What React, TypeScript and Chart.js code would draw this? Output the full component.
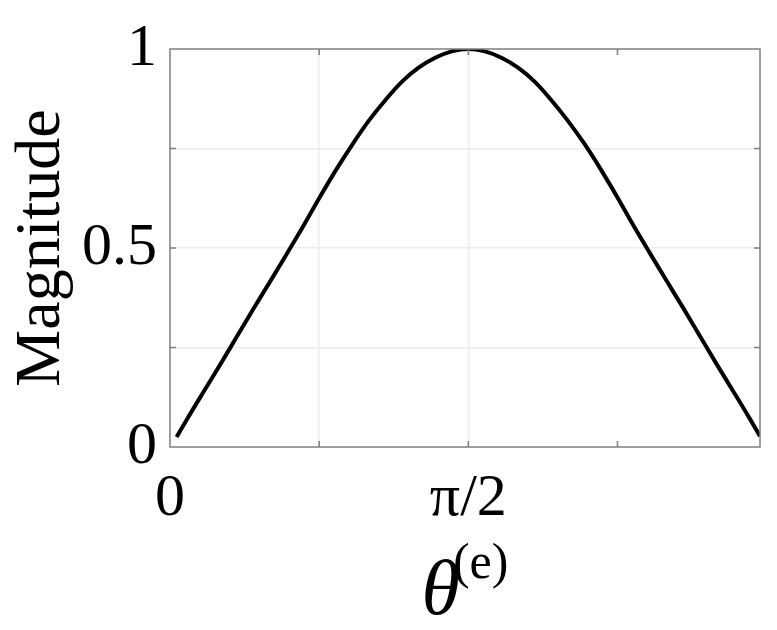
import { useEffect, useRef } from "react";
import { Chart, registerables } from "chart.js";

Chart.register(...registerables);

// θ in degrees (axis shows 0 … 178°)
const angles = [2, 5, 10, 15, 20, 25, 30, 35, 40, 45, 50, 55, 60, 65, 70, 75, 80, 85, 90,
  95, 100, 105, 110, 115, 120, 125, 130, 135, 140, 145, 150, 155, 160, 165, 170, 175, 178];
const magnitude = [0.025, 0.068, 0.137, 0.205, 0.275, 0.345, 0.413, 0.482, 0.552, 0.625, 0.695, 0.76, 0.82, 0.872, 0.918, 0.953, 0.978, 0.994, 1.0,
  0.994, 0.978, 0.953, 0.918, 0.872, 0.82, 0.762, 0.697, 0.627, 0.554, 0.484, 0.415, 0.347, 0.277, 0.207, 0.139, 0.07, 0.027];

const xMin = 0;
const xMax = 178;
const xTickValues = [0, 45, 90, 135];
const xTickLabels = ["0", "", "π/2", ""];
const xGridValues = [45, 90];
const yTickValues = [0, 0.25, 0.5, 0.75, 1];
const yTickLabels = ["0", "", "0.5", "", "1"];
const yGridValues = [0.25, 0.5, 0.75];
const xTitleMain = "θ";
const xTitleSup = "(e)";
const yTitle = "Magnitude";

const FONT = '"Liberation Serif", "Times New Roman", serif';
const FRAME = "#7f7f7f";
const GRID = "#ececec";

const framePlugin = {
  id: "frame",
  afterDraw(chart: any) {
    const { ctx, chartArea: a, scales } = chart;
    ctx.save();
    ctx.strokeStyle = FRAME;
    ctx.lineWidth = 1.5;
    ctx.strokeRect(a.left, a.top, a.right - a.left, a.bottom - a.top);
    const L = 6;
    ctx.beginPath();
    scales.x.ticks.forEach((t: any) => {
      if (t.value <= xMin || t.value >= xMax) return;
      const px = scales.x.getPixelForValue(t.value);
      ctx.moveTo(px, a.bottom);
      ctx.lineTo(px, a.bottom - L);
      ctx.moveTo(px, a.top);
      ctx.lineTo(px, a.top + L);
    });
    scales.y.ticks.forEach((t: any) => {
      if (t.value <= 0 || t.value >= 1) return;
      const py = scales.y.getPixelForValue(t.value);
      ctx.moveTo(a.left, py);
      ctx.lineTo(a.left + L, py);
      ctx.moveTo(a.right, py);
      ctx.lineTo(a.right - L, py);
    });
    ctx.stroke();

    // x-axis title: italic theta with superscript "(e)"
    ctx.fillStyle = "#000";
    ctx.textAlign = "left";
    ctx.textBaseline = "alphabetic";
    const mainFont = `italic 78px ${FONT}`;
    const supFont = `50px ${FONT}`;
    ctx.font = mainFont;
    const w1 = ctx.measureText(xTitleMain).width;
    ctx.font = supFont;
    const w2 = ctx.measureText(xTitleSup).width;
    const overlap = 7;
    const cx = (a.left + a.right) / 2;
    const x0 = cx - (w1 + w2 - overlap) / 2;
    ctx.font = mainFont;
    ctx.fillText(xTitleMain, x0, a.bottom + 167);
    ctx.font = supFont;
    ctx.fillText(xTitleSup, x0 + w1 - overlap, a.bottom + 131);
    ctx.restore();
  },
};

export default function App() {
  const ref = useRef<HTMLCanvasElement | null>(null);

  useEffect(() => {
    document.body.style.margin = "0";
    const canvas = ref.current;
    if (!canvas) return;
    const chart = new Chart(canvas, {
      type: "line",
      data: {
        datasets: [
          {
            data: angles.map((a, i) => ({ x: a, y: magnitude[i] })),
            borderColor: "#000",
            borderWidth: 4,
            pointRadius: 0,
            cubicInterpolationMode: "monotone",
            fill: false,
          },
        ],
      },
      options: {
        animation: false,
        responsive: false,
        maintainAspectRatio: false,
        layout: { padding: { left: 0, right: 17, top: 47, bottom: 0 } },
        plugins: {
          legend: { display: false },
          tooltip: { enabled: false },
        },
        scales: {
          x: {
            type: "linear",
            min: xMin,
            max: xMax,
            afterBuildTicks: (scale: any) => {
              scale.ticks = xTickValues.map((v) => ({ value: v }));
            },
            afterFit: (scale: any) => {
              scale.height = 183;
            },
            ticks: {
              autoSkip: false,
              maxRotation: 0,
              padding: 16,
              color: "#000",
              font: { family: FONT, size: 60 },
              callback: (v: any) => {
                const i = xTickValues.indexOf(Number(v));
                return i >= 0 ? xTickLabels[i] : "";
              },
            },
            grid: {
              drawTicks: false,
              lineWidth: 1.5,
              color: (c: any) => (c.tick && xGridValues.includes(c.tick.value) ? GRID : "rgba(0,0,0,0)"),
            },
            border: { display: false },
          },
          y: {
            type: "linear",
            min: 0,
            max: 1,
            afterBuildTicks: (scale: any) => {
              scale.ticks = yTickValues.map((v) => ({ value: v }));
            },
            afterFit: (scale: any) => {
              scale.width = 170;
            },
            ticks: {
              autoSkip: false,
              padding: 13,
              color: "#000",
              font: { family: FONT, size: 60 },
              callback: (v: any) => {
                const i = yTickValues.indexOf(Number(v));
                return i >= 0 ? yTickLabels[i] : "";
              },
            },
            grid: {
              drawTicks: false,
              lineWidth: 1.5,
              color: (c: any) => (c.tick && yGridValues.includes(c.tick.value) ? GRID : "rgba(0,0,0,0)"),
            },
            border: { display: false },
            title: {
              display: true,
              text: yTitle,
              color: "#000",
              font: { family: FONT, size: 64 },
              padding: { top: 4, bottom: 0 },
            },
          },
        },
      },
      plugins: [framePlugin],
    });
    return () => chart.destroy();
  }, []);

  return (
    <div style={{ width: 777, height: 630, background: "#fff" }}>
      <canvas ref={ref} width={777} height={630} style={{ display: "block" }} />
    </div>
  );
}
